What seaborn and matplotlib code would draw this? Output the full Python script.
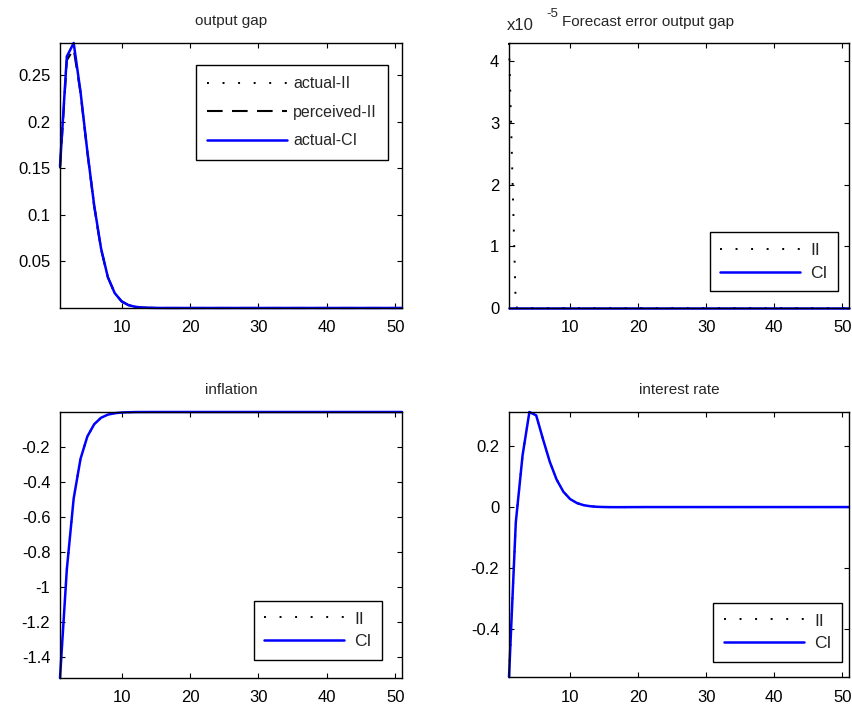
import numpy as np
import pandas as pd
import matplotlib
matplotlib.use("Agg")
import matplotlib.pyplot as plt
from matplotlib.ticker import FixedLocator, FixedFormatter
import seaborn as sns

# ---- periods ----
periods = list(range(1, 52))

# ---- output gap ----
gap_actual_II = [0.152, 0.270, 0.2845, 0.232, 0.168, 0.110, 0.064, 0.033, 0.016, 0.0072,
                 0.0031, 0.0013, 0.0005, 0.0002, 0.00008, 0.00003, 0.00001] + [0.000005] * 34
gap_perceived_II = [0.150, 0.266, 0.278, 0.231, 0.167, 0.109, 0.063, 0.033, 0.016, 0.0072,
                    0.0031, 0.0013, 0.0005, 0.0002, 0.00008, 0.00003, 0.00001] + [0.000005] * 34
gap_actual_CI = [0.152, 0.270, 0.2845, 0.232, 0.168, 0.110, 0.064, 0.033, 0.016, 0.0072,
                 0.0031, 0.0013, 0.0005, 0.0002, 0.00008, 0.00003, 0.00001] + [0.000005] * 34

# ---- forecast error of the output gap ----
fe_II = [4.3e-5, 1e-7] + [0.0] * 49
fe_CI = [0.0] * 51

# ---- inflation ----
infl_II = [-1.523, -0.900, -0.495, -0.268, -0.140, -0.070, -0.033, -0.015, -0.0068, -0.003,
           -0.0013, -0.0005, -0.0002, -0.00008, -0.00003, -0.00001] + [-0.000004] * 35
infl_CI = list(infl_II)

# ---- interest rate ----
rate_II = [-0.556, -0.050, 0.170, 0.311, 0.300, 0.222, 0.148, 0.090, 0.050, 0.026,
           0.013, 0.006, 0.0025, 0.0008, 0.0001, -0.0003, -0.0004, -0.0003, -0.0002,
           -0.0001] + [0.0] * 31
rate_CI = list(rate_II)

# ---- tick marks ----
x_ticks = [10, 20, 30, 40, 50]
gap_ticks = [0.05, 0.1, 0.15, 0.2, 0.25]
gap_ticklabels = ["0.05", "0.1", "0.15", "0.2", "0.25"]
fe_ticks = [0.0, 1e-5, 2e-5, 3e-5, 4e-5]
fe_ticklabels = ["0", "1", "2", "3", "4"]
infl_ticks = [-1.4, -1.2, -1.0, -0.8, -0.6, -0.4, -0.2]
infl_ticklabels = ["-1.4", "-1.2", "-1", "-0.8", "-0.6", "-0.4", "-0.2"]
rate_ticks = [-0.4, -0.2, 0.0, 0.2]
rate_ticklabels = ["-0.4", "-0.2", "0", "0.2"]

sns.set_style("ticks")
FONT = ["Liberation Sans Narrow", "Liberation Sans", "DejaVu Sans"]
plt.rcParams["font.family"] = FONT
plt.rcParams["font.size"] = 12
plt.rcParams["xtick.direction"] = "in"
plt.rcParams["ytick.direction"] = "in"
plt.rcParams["xtick.top"] = True
plt.rcParams["ytick.right"] = True
plt.rcParams["xtick.major.size"] = 3.5
plt.rcParams["ytick.major.size"] = 3.5
plt.rcParams["axes.linewidth"] = 1.0
plt.rcParams["axes.edgecolor"] = "black"
plt.rcParams["xtick.color"] = "black"
plt.rcParams["ytick.color"] = "black"

W, H = 852, 706
fig = plt.figure(figsize=(W / 100, H / 100), dpi=100)


def box(left, top, right, bottom):
    return [left / W, 1 - bottom / H, (right - left) / W, (bottom - top) / H]


ax_gap = fig.add_axes(box(60, 43, 402, 308))
ax_fe = fig.add_axes(box(509, 43, 849, 308))
ax_inf = fig.add_axes(box(60, 412, 402, 678))
ax_rate = fig.add_axes(box(509, 412, 849, 677))

DOT = (0, (1.0, 7.0))
DASH = (0, (7.5, 4.5))
BLUE = "#0000ff"
TITLE_SIZE = 11
LEGEND_SIZE = 11.5


def draw(ax, y, color, ls, lw, label):
    sns.lineplot(x=periods, y=y, ax=ax, color=color, linestyle=ls, linewidth=lw,
                 label=label, clip_on=False, legend=False)


# output gap
draw(ax_gap, gap_actual_II, "black", DOT, 1.4, "actual-II")
draw(ax_gap, gap_perceived_II, "black", DASH, 1.5, "perceived-II")
draw(ax_gap, gap_actual_CI, BLUE, "-", 1.8, "actual-CI")
ax_gap.set_ylim(0, max(gap_actual_CI))
ax_gap.yaxis.set_major_locator(FixedLocator(gap_ticks))
ax_gap.yaxis.set_major_formatter(FixedFormatter(gap_ticklabels))
ax_gap.set_title("output gap", fontsize=TITLE_SIZE, pad=13)
leg = ax_gap.legend(loc="upper right", bbox_to_anchor=(0.959, 0.917), fontsize=LEGEND_SIZE,
                    handlelength=5.0, handletextpad=0.4, labelspacing=0.85,
                    borderpad=0.7, borderaxespad=0, fancybox=False, framealpha=1,
                    edgecolor="black")
leg.get_frame().set_linewidth(1.0)

# forecast error
draw(ax_fe, fe_II, "black", DOT, 1.4, "II")
draw(ax_fe, fe_CI, BLUE, "-", 1.8, "CI")
ax_fe.set_ylim(0, 4.3e-5)
ax_fe.yaxis.set_major_locator(FixedLocator(fe_ticks))
ax_fe.yaxis.set_major_formatter(FixedFormatter(fe_ticklabels))
fig.text(648 / W, 1 - 26 / H, "Forecast error output gap", fontsize=TITLE_SIZE,
         ha="center", va="baseline")
fig.text(507 / W, 1 - 30 / H, "x10", fontsize=12, ha="left", va="baseline")
fig.text(546 / W, 1 - 17 / H, "-5", fontsize=9.5, ha="left", va="baseline")

# inflation
draw(ax_inf, infl_II, "black", DOT, 1.4, "II")
draw(ax_inf, infl_CI, BLUE, "-", 1.8, "CI")
ax_inf.set_ylim(min(infl_CI), 0)
ax_inf.yaxis.set_major_locator(FixedLocator(infl_ticks))
ax_inf.yaxis.set_major_formatter(FixedFormatter(infl_ticklabels))
ax_inf.set_title("inflation", fontsize=TITLE_SIZE, pad=13)

# interest rate
draw(ax_rate, rate_II, "black", DOT, 1.4, "II")
draw(ax_rate, rate_CI, BLUE, "-", 1.8, "CI")
ax_rate.set_ylim(min(rate_CI), max(rate_CI))
ax_rate.yaxis.set_major_locator(FixedLocator(rate_ticks))
ax_rate.yaxis.set_major_formatter(FixedFormatter(rate_ticklabels))
ax_rate.set_title("interest rate", fontsize=TITLE_SIZE, pad=13)

small_legends = [(ax_fe, (0.968, 0.064)), (ax_inf, (0.942, 0.068)), (ax_rate, (0.979, 0.057))]
for ax, anchor in small_legends:
    lg = ax.legend(loc="lower right", bbox_to_anchor=anchor, fontsize=12.5,
                   handlelength=4.6, handletextpad=0.6, labelspacing=0.45,
                   borderpad=0.6, borderaxespad=0, fancybox=False, framealpha=1,
                   edgecolor="black")
    lg.get_frame().set_linewidth(1.0)

for ax in (ax_gap, ax_fe, ax_inf, ax_rate):
    ax.set_xlim(1, 51)
    ax.xaxis.set_major_locator(FixedLocator(x_ticks))
    ax.set_xlabel("")
    ax.set_ylabel("")
    ax.tick_params(axis="y", labelsize=12, pad=7)
    ax.tick_params(axis="x", labelsize=12, pad=9)
    for s in ax.spines.values():
        s.set_visible(True)
        s.set_color("black")

fig.savefig("out.png", dpi=100, facecolor="white")
